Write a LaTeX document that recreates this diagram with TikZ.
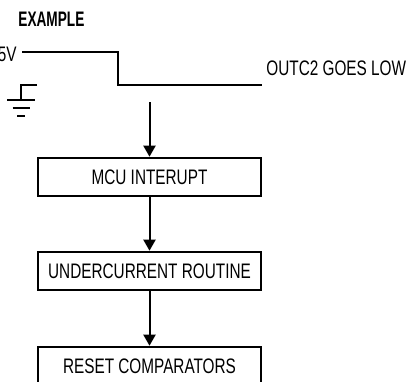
\documentclass[tikz,border=0pt]{standalone}
\usepackage{fontspec}
\setmainfont[FakeStretch=0.73]{Liberation Sans}
\newfontfamily\titlefont[FakeStretch=0.65]{Liberation Sans}
\usetikzlibrary{arrows.meta}
\newcommand\labelsize{\fontsize{10.5}{12}\selectfont}
\begin{document}
\begin{tikzpicture}[x=0.5pt,y=-0.5pt,
  stepbox/.style={draw,line width=1.3pt,minimum width=111.5pt,minimum height=19pt,
    inner sep=0pt,font=\labelsize},
  flow/.style={line width=1pt,-{Triangle[width=6pt,length=5.5pt]}},
  sig/.style={line width=1.4pt},
  txt/.style={inner sep=0pt,font=\labelsize}]
\useasboundingbox (0,0) rectangle (413,381);

% Title.
\node[inner sep=0pt,anchor=base west,font=\titlefont\bfseries\labelsize] (title) at (18,26) {EXAMPLE};

% Supply trace dropping low.
\node[txt,anchor=base east] (vdd) at (17,61) {5V};
\draw[sig] (22,52) -- (118,52) -- (118,85) -- (262,85);
\node[txt,anchor=base west] (outc) at (266,75) {OUTC2 GOES LOW};

% Ground symbol.
\draw[sig] (37,85) -- (21,85) -- (21,100);
\draw[sig] (7,100) -- (35,100);
\draw[sig] (12.5,108) -- (29.5,108);
\draw[sig] (17,116) -- (25,116);

% Flow of the routine.
\coordinate (start) at (149.5,102);
\node[stepbox] (mcu) at (149.5,177) {MCU INTERUPT};
\node[stepbox] (under) at (149.5,271) {UNDERCURRENT ROUTINE};
\node[stepbox] (reset) at (149.5,366) {RESET COMPARATORS};

\draw[flow] (start) -- (mcu.north);
\draw[flow] (mcu.south) -- (under.north);
\draw[flow] (under.south) -- (reset.north);
\end{tikzpicture}
\end{document}
